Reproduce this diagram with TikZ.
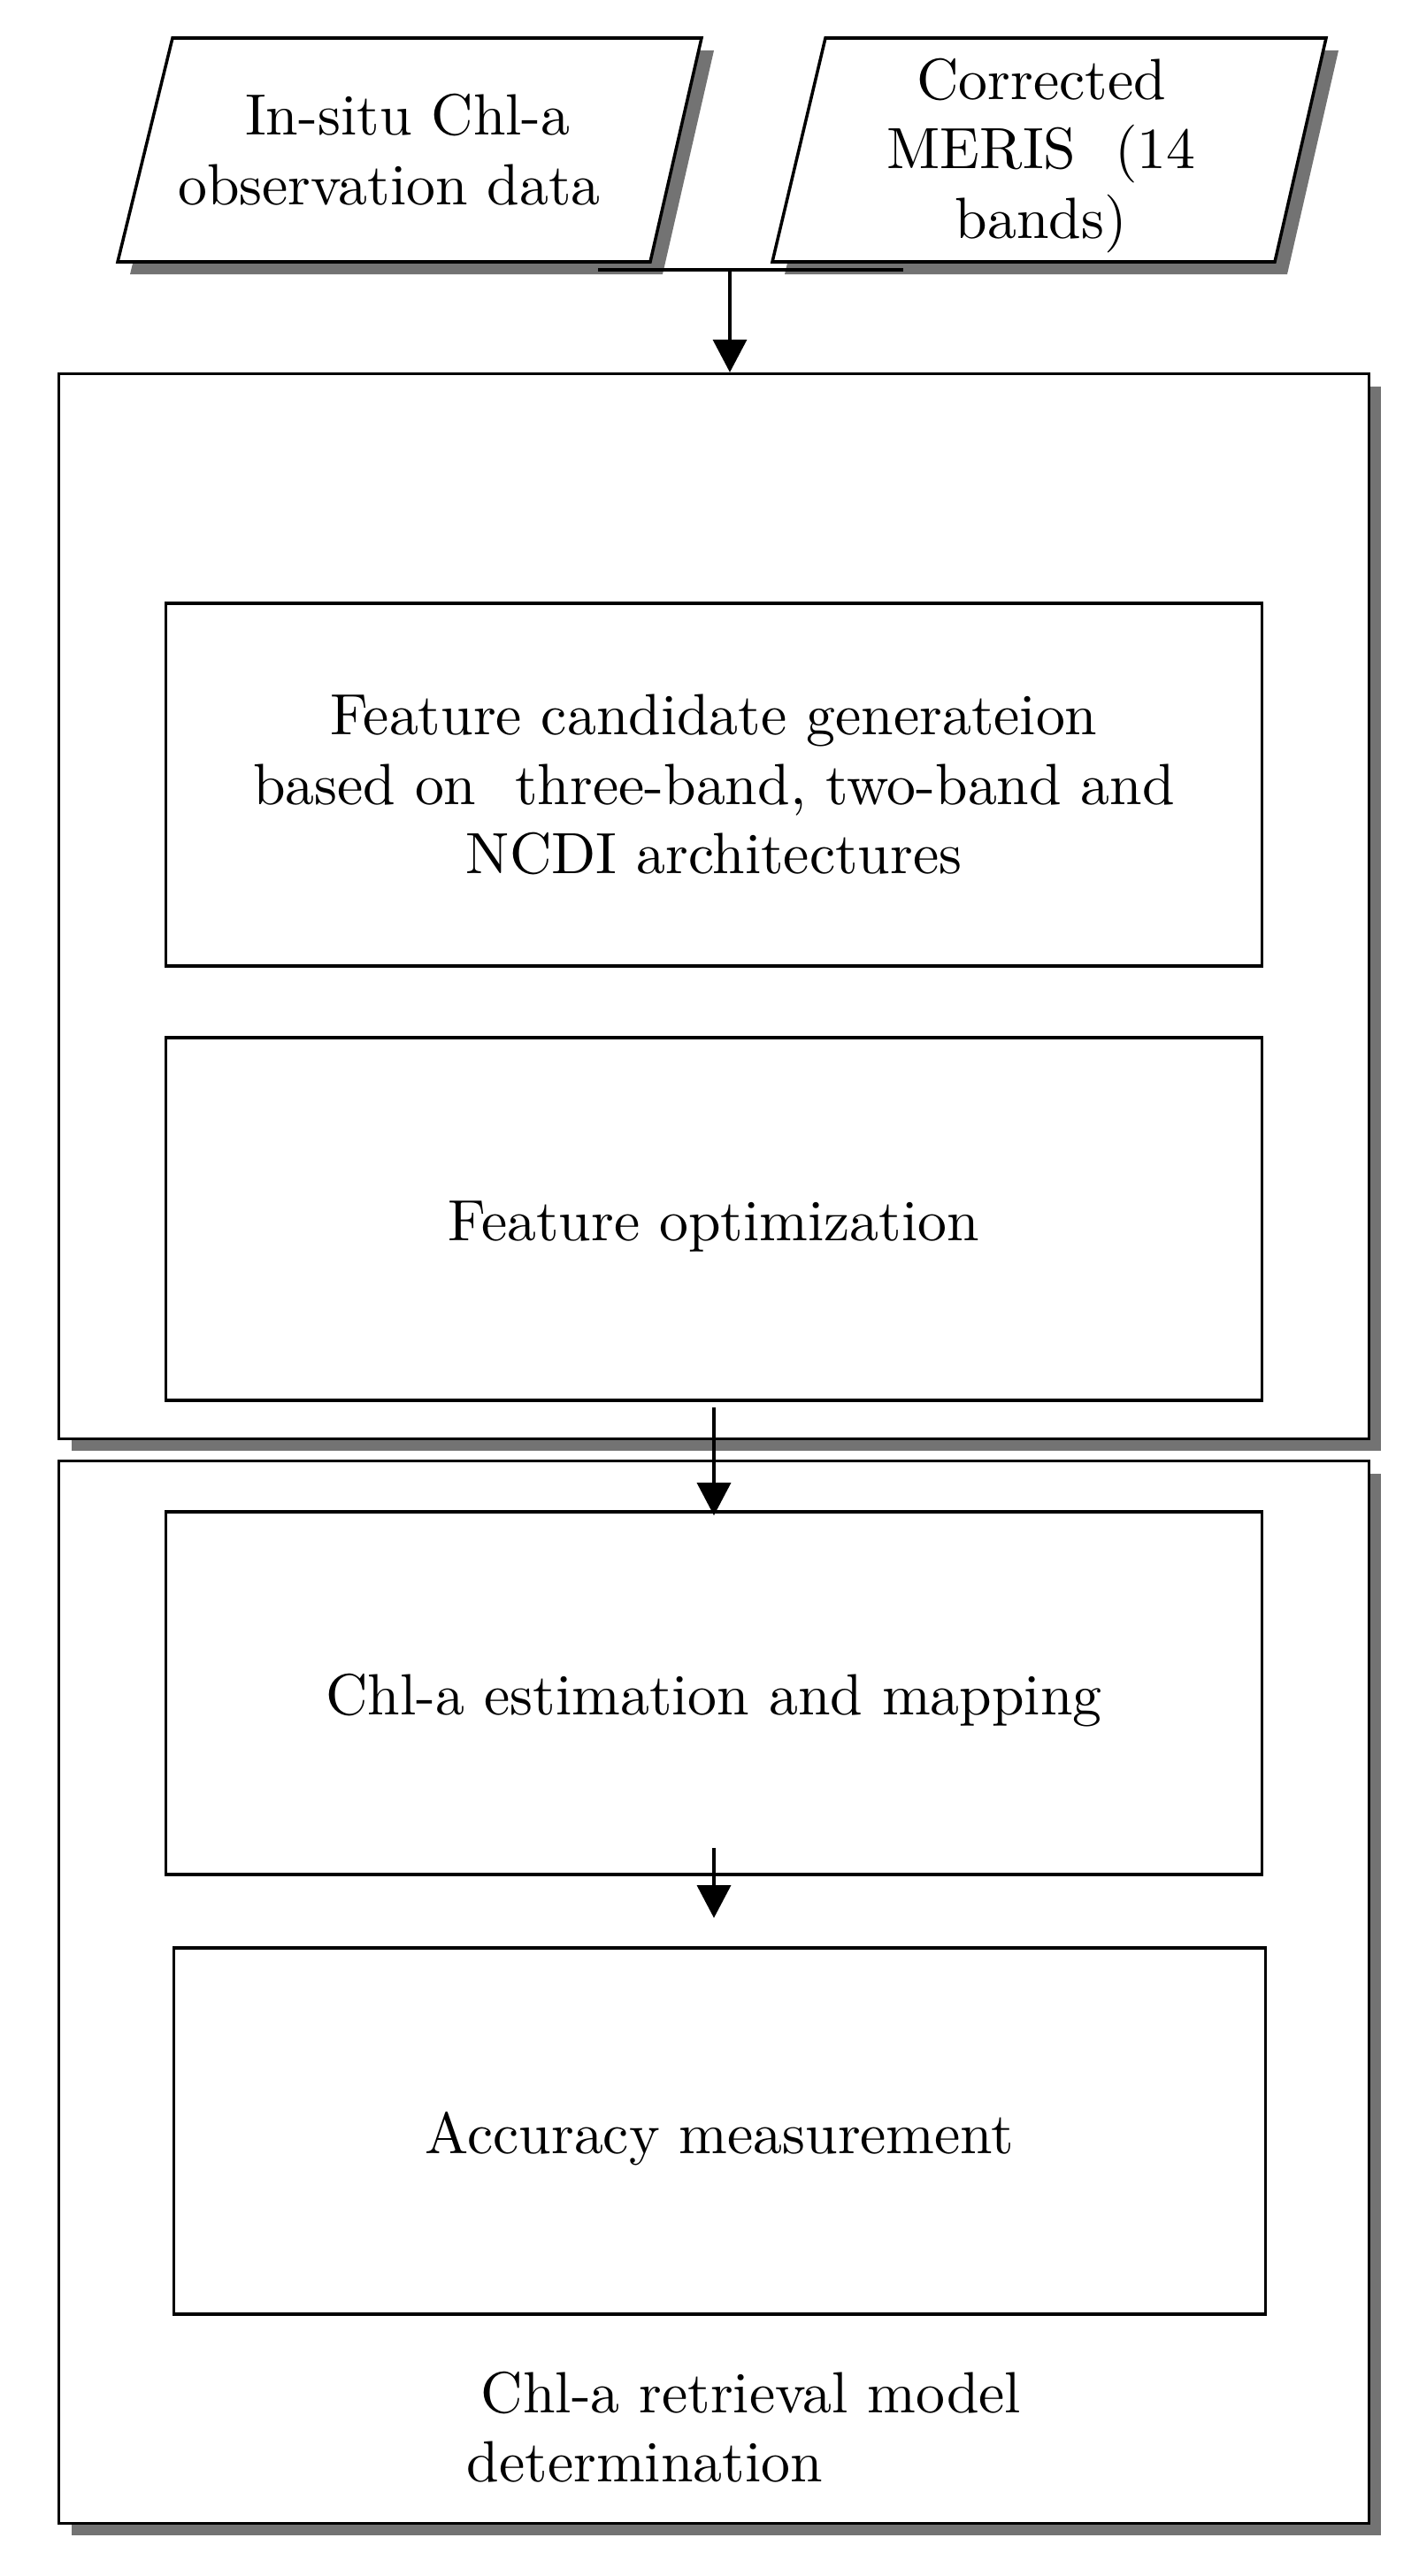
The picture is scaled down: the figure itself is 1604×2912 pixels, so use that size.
\documentclass[tikz,border=0pt]{standalone}
\usepackage{fontspec}
\setmainfont{lmroman10-regular}[Extension=.otf]
\usetikzlibrary{arrows.meta,shadows}
\definecolor{shadowgray}{HTML}{737373}
\newcommand{\diagfont}{\fontsize{18.7pt}{22.4pt}\selectfont}
\newcommand{\lowertext}[1]{\raisebox{-0.085cm}[\height][\depth]{#1}}
\tikzset{
  frame/.style={draw=black, line width=1pt, fill=white},
  shadowed/.style={drop shadow={shadow xshift=0.14cm, shadow yshift=-0.14cm, fill=shadowgray, opacity=1}},
  boxnode/.style={frame, rectangle, inner sep=0pt, align=center, font=\diagfont},
  txt/.style={inner sep=0pt, align=center, font=\diagfont},
  conn/.style={draw=black, line width=1pt},
  arrow/.style={conn, -{Triangle[length=0.37cm,width=0.38cm]}},
}
\begin{document}
\begin{tikzpicture}[x=0.01cm, y=-0.01cm]
\useasboundingbox (0,0) rectangle (1604,2912);

% outer frames
\node[frame, shadowed, minimum width=14.8cm, minimum height=12.03cm, inner sep=0pt] (O1) at (807,1024.5) {};
\node[frame, shadowed, minimum width=14.8cm, minimum height=12.0cm, inner sep=0pt] (O2) at (807,2252) {};

% input parallelograms
\draw[frame, shadowed] (195,43) -- (793,43) -- (735,296) -- (133,296) -- cycle;
\draw[frame, shadowed] (933,43) -- (1499,43) -- (1441,296) -- (873,296) -- cycle;
\node[txt] (t1) at (440,169) {\hspace*{0.42cm}In-situ Chl-a\\observation data};
\node[txt] (t2) at (1177,176) {Corrected\\MERIS\ \ (14\\bands)};

% inner boxes
\node[boxnode, minimum width=12.38cm, minimum height=4.1cm] (A) at (807,887)
  {Feature candidate generateion\\based on\ \ three-band, two-band and\\NCDI architectures};
\node[boxnode, minimum width=12.38cm, minimum height=4.1cm] (B) at (807,1378)
  {\lowertext{Feature optimization}};
\node[boxnode, minimum width=12.38cm, minimum height=4.1cm] (C) at (807,1914)
  {\lowertext{Chl-a estimation and mapping}};
\node[boxnode, minimum width=12.33cm, minimum height=4.14cm] (D) at (813.5,2409)
  {\lowertext{Accuracy measurement}};

\node[txt, align=left, anchor=north west] (lbl) at (527,2680)
  {\hspace*{0.16cm}Chl-a retrieval model\\determination};

% connectors
\coordinate (jl) at (676,305);
\coordinate (jr) at (1021,305);
\coordinate (j) at (825,305);
\draw[conn] (jl) -- (jr);
\draw[arrow] (j) -- (j |- O1.north);
\draw[arrow] ([yshift=-0.06cm]B.south) -- ([yshift=-0.06cm]B.south |- C.north);
\draw[arrow] ([yshift=0.32cm]C.south) -- ([yshift=0.32cm]C.south |- D.north);
\end{tikzpicture}
\end{document}
